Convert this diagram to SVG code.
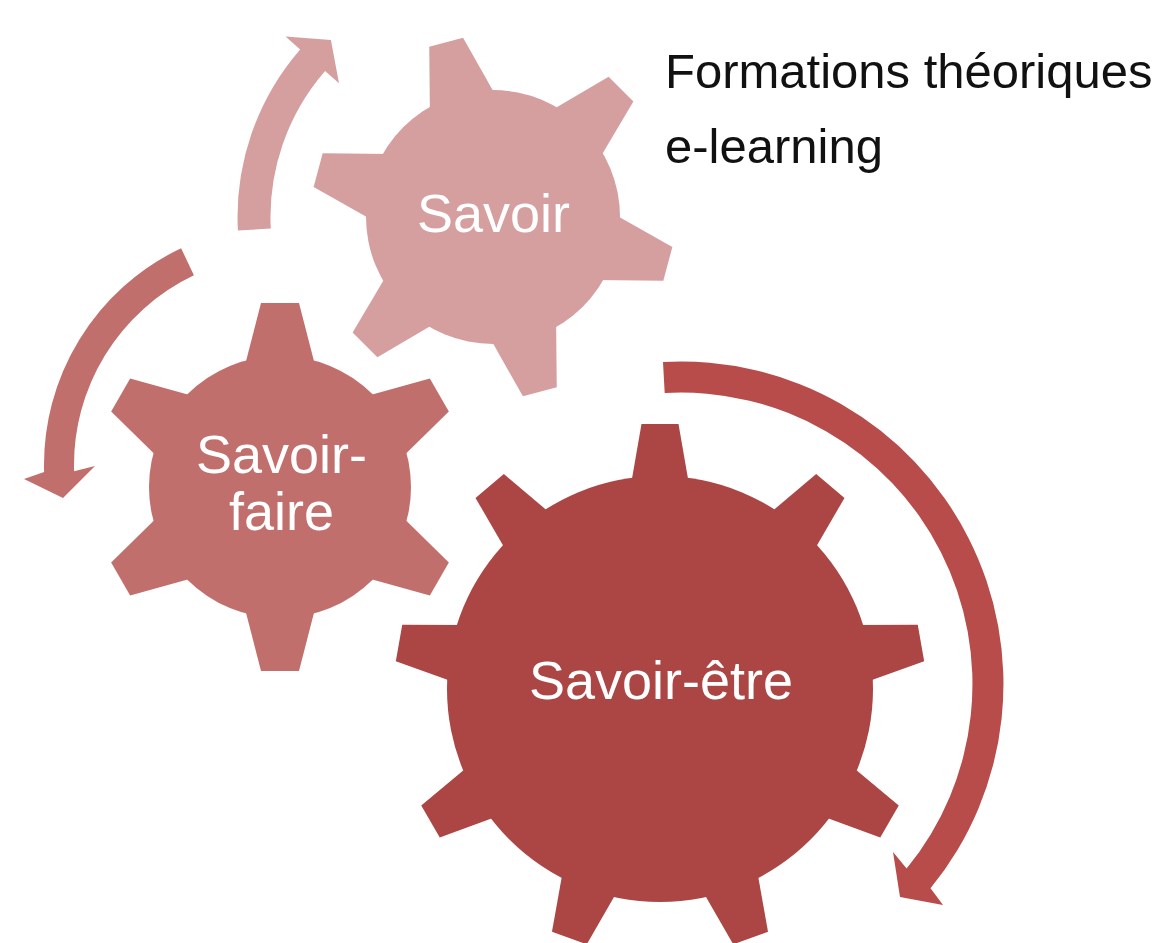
<svg xmlns="http://www.w3.org/2000/svg" width="1163" height="943" viewBox="0 0 1163 943">
  <style>
    .lbl { font-family: "Liberation Sans", Arial, sans-serif; font-size: 54px; fill: #ffffff; text-anchor: middle; }
    .note { font-family: "Liberation Sans", Arial, sans-serif; font-size: 49px; fill: #111111; }
    .c1 { fill: #D59E9F; }
    .c2 { fill: #C16F6D; }
    .c3 { fill: #AB4644; }
    .c3a { fill: #B74C4A; }
  </style>
  <defs>
    <polygon id="tooth1" points="-17.5,-181 17.5,-181 34.5,-115 -34.5,-115"/>
    <polygon id="tooth2" points="-19,-184 19,-184 36,-118 -36,-118"/>
    <polygon id="tooth3" points="-18.5,-265 18.5,-265 29.8,-200 -29.8,-200"/>
  </defs>
  <rect width="1163" height="943" fill="#ffffff"/>

  <g id="connectors">
    <path class="c1" d="M 237.9,230.4 A 255.5 255.5 0 0 1 300.2,49.4 L 285.5,36.6 L 330.9,40.1 L 339.0,83.2 L 325.1,71.0 A 222.5 222.5 0 0 0 270.8,228.6 Z"/>
    <path class="c2" d="M 181.1,248.2 A 240 240 0 0 0 44.1,472.1 L 24,479 L 63,498 L 95,466 L 74.1,471.2 A 210 210 0 0 1 193.9,275.3 Z"/>
    <path class="c3a" d="M 663.0,362.0 A 322.5 322.5 0 0 1 930.5,888.3 L 943,905 L 900,897 L 893,852 L 906.6,868.6 A 291.5 291.5 0 0 0 664.7,393.0 Z"/>
  </g>

  <g id="savoir">
    <g class="c1" transform="translate(493,217)">
      <circle r="127"/>
      <use href="#tooth1" transform="rotate(45)"/>
      <use href="#tooth1" transform="rotate(105)"/>
      <use href="#tooth1" transform="rotate(165)"/>
      <use href="#tooth1" transform="rotate(225)"/>
      <use href="#tooth1" transform="rotate(285)"/>
      <use href="#tooth1" transform="rotate(345)"/>
    </g>
    <text class="lbl" x="493.5" y="232">Savoir</text>
  </g>

  <g id="savoir-faire">
    <g class="c2" transform="translate(280,487)">
      <circle r="131"/>
      <use href="#tooth2" transform="rotate(0)"/>
      <use href="#tooth2" transform="rotate(60)"/>
      <use href="#tooth2" transform="rotate(120)"/>
      <use href="#tooth2" transform="rotate(180)"/>
      <use href="#tooth2" transform="rotate(240)"/>
      <use href="#tooth2" transform="rotate(300)"/>
    </g>
    <text class="lbl" x="281.5" y="473">Savoir-</text>
    <text class="lbl" x="281.5" y="530">faire</text>
  </g>

  <g id="savoir-etre">
    <g class="c3" transform="translate(660,689)">
      <circle r="213"/>
      <use href="#tooth3" transform="rotate(0)"/>
      <use href="#tooth3" transform="rotate(40)"/>
      <use href="#tooth3" transform="rotate(80)"/>
      <use href="#tooth3" transform="rotate(120)"/>
      <use href="#tooth3" transform="rotate(160)"/>
      <use href="#tooth3" transform="rotate(200)"/>
      <use href="#tooth3" transform="rotate(240)"/>
      <use href="#tooth3" transform="rotate(280)"/>
      <use href="#tooth3" transform="rotate(320)"/>
    </g>
    <text class="lbl" x="661" y="699">Savoir-être</text>
  </g>

  <g id="note">
    <text class="note" x="665" y="88">Formations théoriques</text>
    <text class="note" x="665" y="163">e-learning</text>
  </g>
</svg>
